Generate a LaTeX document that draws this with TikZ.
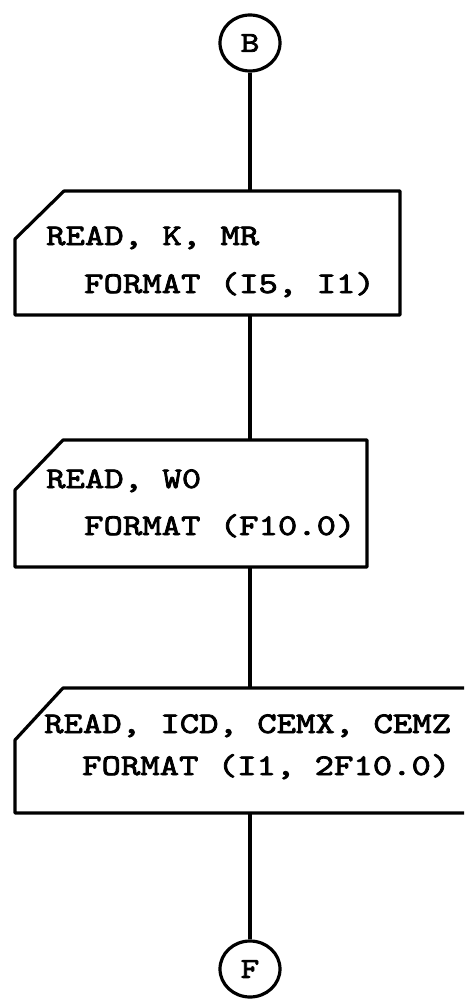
\documentclass[tikz,border=0pt]{standalone}
\usepackage{fontspec}
\usetikzlibrary{shapes.geometric}
% typewriter lettering: Latin Modern Mono, widened and thickened
\newfontfamily\typerfont{lmmono10-regular.otf}[FakeStretch=1.23,FakeBold=2.6]
\newcommand\typer[1]{\typerfont\fontsize{#1}{#1}\selectfont}
\tikzset{
  line/.style={line width=3.2pt, line join=round},
  iobox/.style={rectangle, draw=none, inner sep=0pt, outer sep=0pt, anchor=north west},
  txt/.style={anchor=base west, inner sep=0pt, font=\typer{30}},
  connector/.style={ellipse, draw, line width=3.2pt, inner sep=0pt,
    minimum width=60pt, minimum height=56pt, font=\typer{29}},
}
\begin{document}
\begin{tikzpicture}[x=1pt,y=-1pt]
\useasboundingbox (0,0) rectangle (464,1000);
\fill[white] (0,0) rectangle (464,1000);
\clip (0,0) rectangle (464,1000);

% off-page connectors
\node[connector] (B) at (250,43) {B};
\node[connector] (F) at (250,969) {F};

% input blocks (frames only; outlines drawn with a cut top-left corner)
\node[iobox, minimum width=385pt, minimum height=124pt] (r1) at (15,191) {};
\node[iobox, minimum width=352pt, minimum height=127pt] (r2) at (15,440) {};
\node[iobox, minimum width=460pt, minimum height=125pt] (r3) at (15,688) {};

\foreach \r/\cx/\cy in {r1/49/48, r2/48/50, r3/48/52}{
  \draw[line] ([xshift=\cx pt]\r.north west) -- (\r.north east) -- (\r.south east)
    -- (\r.south west) -- ([yshift=-\cy pt]\r.north west) -- cycle;
}

% statements
\node[txt] (t1a) at (46,245) {READ, K, MR};
\node[txt] (t1b) at (84,293) {FORMAT (I5, I1)};
\node[txt] (t2a) at (46,488) {READ, W0};
\node[txt] (t2b) at (84,535) {FORMAT (F10.0)};
\node[txt] (t3a) at (44,733) {READ, ICD, CEMX, CEMZ};
\node[txt] (t3b) at (82,775) {FORMAT (I1, 2F10.0)};

% flow lines
\draw[line] (B) -- (B |- r1.north);
\draw[line] (r1.south -| B) -- (r2.north -| B);
\draw[line] (r2.south -| B) -- (r3.north -| B);
\draw[line] (r3.south -| F) -- (F);
\end{tikzpicture}
\end{document}
